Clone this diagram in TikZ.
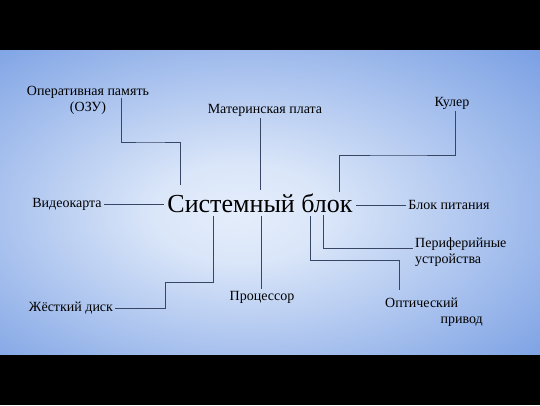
\documentclass[tikz,border=0pt]{standalone}
\usepackage{fontspec}
\setmainfont{Liberation Serif}
\definecolor{bginner}{RGB}{228,237,251}
\definecolor{bgouter}{RGB}{106,148,224}
\definecolor{linkc}{RGB}{55,70,100}
\pgfdeclareradialshading{bgshade}{\pgfpoint{-3bp}{-2bp}}{color(0bp)=(bginner); color(8bp)=(bginner!92!bgouter); color(42bp)=(bgouter); color(80bp)=(bgouter)}
\tikzset{
  lbl/.style={font=\fontsize{14}{16}\selectfont, inner sep=2pt, text=black},
  link/.style={draw=linkc, line width=0.9pt},
}
\begin{document}
\begin{tikzpicture}[x=1pt,y=-1pt]
\useasboundingbox (0,0) rectangle (540,405);
\fill[black] (0,0) rectangle (540,405);
\shade[shading=bgshade] (0,50) rectangle (540,354);
% centre
\node[font=\fontsize{26}{30}\selectfont, inner sep=3pt] (sys) at (260,203) {Системный блок};
% labels
\node[lbl, align=center] (ram) at (88,100) {Оперативная память\\(ОЗУ)};
\node[lbl] (mb) at (265,110) {Материнская плата};
\node[lbl] (cool) at (452,103) {Кулер};
\node[lbl] (vid) at (67,204) {Видеокарта};
\node[lbl] (psu) at (449,205) {Блок питания};
\node[lbl, align=left, anchor=west] (per) at (413,252) {Периферийные\\устройства};
\node[lbl, anchor=west] (optA) at (383,303) {Оптический};
\node[lbl, anchor=east] (optB) at (485,322) {привод};
\node[lbl] (cpu) at (262,297) {Процессор};
\node[lbl] (hdd) at (71,308) {Жёсткий диск};
% connectors
\coordinate (ramtop) at (121,98);
\coordinate (ramend) at (180,185);
\draw[link] (ramtop) |- (150,142) -| (ramend);
\coordinate (mbend) at (260,190);
\draw[link] (mb.south -| mbend) -- (mbend);
\coordinate (coolend) at (339,192);
\draw[link] ([xshift=3pt]cool.south) |- (400,155) -| (coolend);
\draw[link] (vid.east) -- (vid.east -| sys.west);
\draw[link] (psu.west) -- (psu.west -| sys.east);
\coordinate (perstart) at (323,215);
\draw[link] (perstart) |- (per.west |- 0,248);
\coordinate (optstart) at (310,216);
\draw[link] (optstart) |- (399,260) -- (399,290);
\coordinate (cpustart) at (261,216);
\draw[link] (cpustart) -- (cpustart |- cpu.north);
\coordinate (hddtop) at (213,216);
\draw[link] (hdd.east) -| (165,282) -| (hddtop);
\end{tikzpicture}
\end{document}
